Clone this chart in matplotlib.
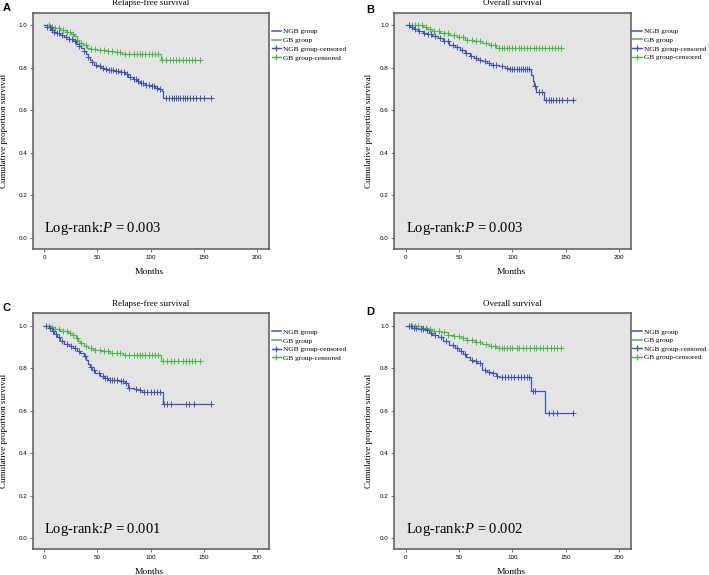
import matplotlib

matplotlib.use("Agg")
import matplotlib.pyplot as plt
import numpy as np
from matplotlib.lines import Line2D

plt.rcParams["font.family"] = ["Liberation Serif", "DejaVu Serif"]
plt.rcParams["mathtext.fontset"] = "custom"
plt.rcParams["mathtext.rm"] = "Liberation Serif"
plt.rcParams["mathtext.it"] = "Liberation Serif:italic"

BLUE = "#4353b0"
GREEN = "#4cb54f"
BG = "#e4e4e4"
FRAME = "#5a5a5a"

# ---- data (event times in months, survival after the step) ----
# Panel A: relapse-free survival
A_NGB_T = [0, 3, 6, 9, 12, 15, 19, 23, 27, 30, 33, 35, 37, 39, 41, 43, 45, 47, 50, 53, 56, 60, 66, 72, 76, 79, 83, 87, 90, 95, 100, 104, 108, 111, 112]
A_NGB_S = [1.0, 0.99, 0.98, 0.97, 0.963, 0.955, 0.945, 0.935, 0.925, 0.912, 0.902, 0.892, 0.88, 0.865, 0.85, 0.838, 0.825, 0.815, 0.808, 0.80, 0.795, 0.79, 0.785, 0.778, 0.772, 0.755, 0.748, 0.738, 0.728, 0.72, 0.713, 0.705, 0.70, 0.69, 0.658]
A_NGB_C = [3, 5, 7, 9, 12, 14, 17, 20, 23, 26, 29, 33, 37, 41, 45, 49, 52, 55, 58, 61, 63, 65, 67, 69, 72, 75, 78, 81, 84, 86, 88, 91, 93, 96, 98, 101, 103, 106, 109,
           114, 117, 120, 122, 124, 126, 128, 130, 132, 134, 137, 140, 143, 146, 150, 157]
A_GB_T = [0, 6, 10, 15, 20, 25, 28, 31, 33, 36, 40, 44, 50, 58, 66, 73, 110]
A_GB_S = [1.0, 0.993, 0.987, 0.978, 0.968, 0.958, 0.948, 0.932, 0.918, 0.905, 0.895, 0.888, 0.882, 0.878, 0.874, 0.866, 0.835]
A_GB_C = [4, 7, 10, 14, 18, 21, 24, 27, 31, 35, 39, 44, 48, 52, 56, 60, 64, 68, 71, 76, 80, 84, 87, 90, 92, 95, 98, 101, 104, 107,
          111, 114, 118, 121, 124, 127, 130, 133, 136, 139, 142, 146]

# Panel B: overall survival
B_NGB_T = [0, 4, 8, 12, 16, 20, 25, 30, 35, 41, 46, 51, 56, 60, 64, 68, 72, 76, 80, 88, 93, 97, 118, 119, 120, 122, 130]
B_NGB_S = [1.0, 0.99, 0.982, 0.974, 0.966, 0.958, 0.948, 0.938, 0.925, 0.909, 0.896, 0.883, 0.87, 0.855, 0.846, 0.838, 0.83, 0.822, 0.815, 0.807, 0.80, 0.796, 0.765, 0.74, 0.712, 0.688, 0.648]
B_NGB_C = [3, 6, 9, 13, 17, 21, 24, 28, 32, 36, 40, 44, 48, 53, 57, 61, 66, 70, 74, 78, 82, 85, 90, 95, 98, 100, 102, 104, 106, 108, 110, 112, 114, 116,
           121, 125, 128, 132, 134, 136, 138, 141, 144, 147, 151, 157]
B_GB_T = [0, 16, 20, 25, 32, 41, 48, 56, 63, 72, 78, 85]
B_GB_S = [1.0, 0.99, 0.982, 0.974, 0.965, 0.955, 0.943, 0.932, 0.925, 0.915, 0.905, 0.893]
B_GB_C = [3, 6, 9, 12, 15, 19, 23, 27, 31, 36, 40, 45, 50, 54, 58, 62, 66, 70, 75, 80, 84, 88, 90, 92, 95, 97, 100, 103, 106,
          108, 111, 114, 117, 120, 122, 125, 128, 131, 134, 137, 140, 143, 146]

# Panel C: relapse-free survival
C_NGB_T = [0, 4, 7, 9, 12, 15, 19, 23, 27, 31, 34, 37, 39, 41, 43, 45, 48, 52, 56, 60, 70, 76, 79, 84, 88, 92, 112]
C_NGB_S = [1.0, 0.99, 0.975, 0.962, 0.948, 0.93, 0.915, 0.905, 0.895, 0.882, 0.87, 0.855, 0.838, 0.82, 0.803, 0.79, 0.775, 0.762, 0.752, 0.744, 0.738, 0.728, 0.708, 0.7, 0.695, 0.688, 0.633]
C_NGB_C = [2, 5, 8, 11, 14, 17, 21, 25, 29, 33, 38, 44, 47, 51, 55, 57, 59, 62, 64, 66, 68, 72, 74, 77, 80, 86, 90, 94, 97, 100, 103, 106, 109,
           113, 115, 119, 133, 136, 141, 157]
C_GB_T = [0, 5, 10, 15, 22, 27, 30, 32, 34, 37, 41, 46, 53, 62, 74, 110]
C_GB_S = [1.0, 0.993, 0.983, 0.974, 0.964, 0.955, 0.942, 0.928, 0.916, 0.905, 0.895, 0.886, 0.879, 0.872, 0.863, 0.832]
C_GB_C = [4, 7, 10, 14, 18, 21, 24, 27, 31, 35, 39, 44, 48, 52, 56, 60, 64, 68, 71, 76, 80, 84, 87, 90, 92, 95, 98, 101, 104, 107,
          112, 115, 119, 122, 126, 130, 133, 136, 139, 142, 146]

# Panel D: overall survival
D_NGB_T = [0, 6, 12, 18, 22, 25, 30, 35, 41, 46, 50, 54, 57, 60, 63, 67, 72, 76, 80, 85, 88, 118, 131]
D_NGB_S = [1.0, 0.99, 0.985, 0.978, 0.965, 0.957, 0.945, 0.928, 0.911, 0.895, 0.879, 0.865, 0.852, 0.84, 0.833, 0.824, 0.79, 0.782, 0.775, 0.765, 0.758, 0.694, 0.59]
D_NGB_C = [3, 5, 8, 10, 14, 16, 20, 24, 28, 33, 38, 44, 48, 52, 56, 62, 66, 70, 74, 78, 82, 86, 90, 93, 96, 99, 102, 105, 108, 111, 114, 116,
           119, 121, 134, 138, 142, 157]
D_GB_T = [0, 15, 20, 25, 33, 40, 45, 52, 58, 65, 72, 78, 85]
D_GB_S = [1.0, 0.99, 0.982, 0.974, 0.968, 0.958, 0.95, 0.942, 0.934, 0.925, 0.915, 0.905, 0.893]
D_GB_C = [3, 6, 9, 12, 16, 19, 23, 27, 31, 36, 40, 45, 50, 54, 58, 62, 66, 70, 75, 80, 84, 88, 90, 92, 95, 98, 100, 104, 106,
          110, 113, 117, 120, 122, 126, 129, 133, 136, 139, 142, 146]

NGB_END = [157, 157, 157, 157]
GB_END = [146, 146, 146, 146]
TITLES = ["Relapse-free survival", "Overall survival", "Relapse-free survival", "Overall survival"]
P_TEXT = ["0.003", "0.003", "0.001", "0.002"]
LETTERS = ["A", "B", "C", "D"]
LEGEND_LABELS = ["NGB group", "GB group", "NGB group-censored", "GB group-censored"]
X_TICKS = [0, 50, 100, 150, 200]
Y_TICKS = [0.0, 0.2, 0.4, 0.6, 0.8, 1.0]

PANELS = [
    (A_NGB_T, A_NGB_S, A_NGB_C, A_GB_T, A_GB_S, A_GB_C),
    (B_NGB_T, B_NGB_S, B_NGB_C, B_GB_T, B_GB_S, B_GB_C),
    (C_NGB_T, C_NGB_S, C_NGB_C, C_GB_T, C_GB_S, C_GB_C),
    (D_NGB_T, D_NGB_S, D_NGB_C, D_GB_T, D_GB_S, D_GB_C),
]

# axes boxes in figure fractions [left, bottom, width, height]
BOXES = [
    [0.0465, 0.567, 0.333, 0.4104],
    [0.5561, 0.567, 0.3339, 0.4104],
    [0.0465, 0.0447, 0.333, 0.4104],
    [0.5561, 0.0447, 0.3339, 0.4104],
]
LETTER_POS = [(0.004, 0.986), (0.517, 0.983), (0.004, 0.464), (0.516, 0.458)]
YLABEL_X = [-0.106, -0.088, -0.106, -0.088]
LEGEND_FS = [5.3, 5.2, 5.3, 5.2]
LEGEND_X = [1.011, 1.006, 1.011, 1.006]


def km_curve(ax, t, s, cens, end, color):
    t = np.array(list(t) + [end], dtype=float)
    s = np.array(list(s) + [s[-1]], dtype=float)
    ax.step(t, s, where="post", color=color, lw=0.9)
    cens = np.asarray(cens, dtype=float)
    idx = np.searchsorted(t, cens, side="right") - 1
    ax.plot(cens, s[idx], "+", color=color, ms=4, mew=0.7, ls="none")


fig = plt.figure(figsize=(7.09, 5.75), dpi=100)

for i, (ngb_t, ngb_s, ngb_c, gb_t, gb_s, gb_c) in enumerate(PANELS):
    ax = fig.add_axes(BOXES[i])
    ax.set_facecolor(BG)
    km_curve(ax, gb_t, gb_s, gb_c, GB_END[i], GREEN)
    km_curve(ax, ngb_t, ngb_s, ngb_c, NGB_END[i], BLUE)

    ax.set_xlim(-10.6, 211.3)
    ax.set_ylim(-0.053, 1.058)
    ax.set_xticks(X_TICKS)
    ax.set_yticks(Y_TICKS)
    ax.set_yticklabels([f"{v:.1f}" for v in Y_TICKS])
    for lab in ax.get_xticklabels() + ax.get_yticklabels():
        lab.set_family(["Liberation Sans", "DejaVu Sans"])
    ax.tick_params(labelsize=4.5, length=2, width=0.6, color=FRAME, pad=2)
    for sp in ax.spines.values():
        sp.set_color(FRAME)
        sp.set_linewidth(1.1)

    ax.text(0.5, 1.041, TITLES[i], transform=ax.transAxes, ha="center", va="center", fontsize=6.5)
    ax.text(0.494, -0.097, "Months", transform=ax.transAxes, ha="center", va="center", fontsize=6.8)
    ax.set_ylabel("Cumulative proportion survival", fontsize=6.5)
    ax.yaxis.set_label_coords(YLABEL_X[i], 0.5)
    ax.text(0.0, 0.042, "Log-rank:$P$ = " + P_TEXT[i], fontsize=10.5, ha="left", va="center")

    handles = [
        Line2D([], [], color=BLUE, lw=1.1),
        Line2D([], [], color=GREEN, lw=1.1),
        Line2D([], [], color=BLUE, lw=1.0, marker="+", ms=5, mew=0.9),
        Line2D([], [], color=GREEN, lw=1.0, marker="+", ms=5, mew=0.9),
    ]
    ax.legend(handles, LEGEND_LABELS, loc="upper left", bbox_to_anchor=(LEGEND_X[i], 0.935),
              frameon=False, fontsize=LEGEND_FS[i], handlelength=1.3, handletextpad=0.3,
              labelspacing=0.35, borderaxespad=0, borderpad=0)

    fig.text(LETTER_POS[i][0], LETTER_POS[i][1], LETTERS[i], fontsize=8, fontweight="bold",
             family=["Liberation Sans", "DejaVu Sans"], ha="left", va="center")

fig.savefig("out.png", dpi=100)
plt.close(fig)
